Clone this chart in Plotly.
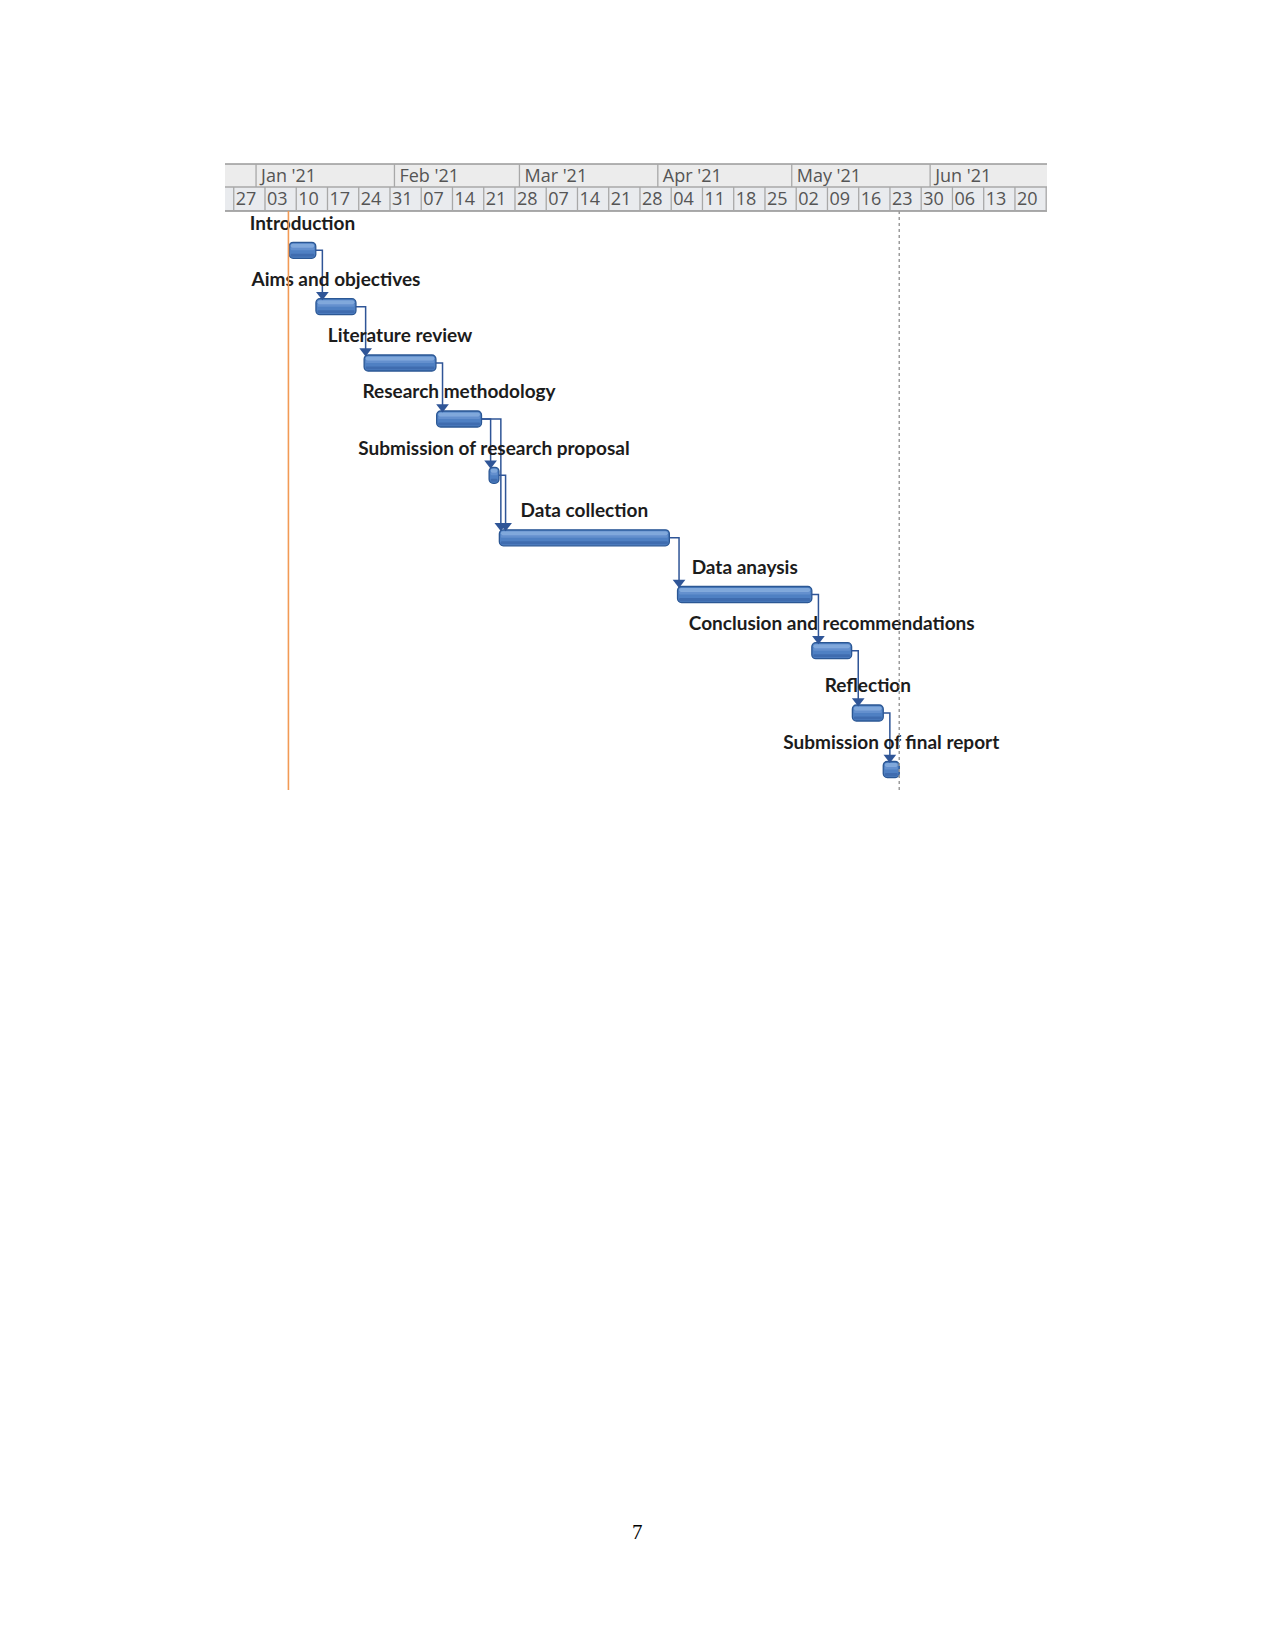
import pandas as pd
import plotly.graph_objects as go

# ---------------- data ----------------
tasks = ["Introduction", "Aims and objectives", "Literature review", "Research methodology",
         "Submission of research proposal", "Data collection", "Data anaysis",
         "Conclusion and recommendations", "Reflection", "Submission of final report"]
starts = ["2021-01-08 10:00", "2021-01-14 10:00", "2021-01-25 05:00", "2021-02-10 11:00",
          "2021-02-22 05:00", "2021-02-24 12:00", "2021-04-05 10:00", "2021-05-05 12:00",
          "2021-05-14 14:00", "2021-05-21 12:00"]
ends = ["2021-01-14 09:00", "2021-01-23 09:00", "2021-02-10 07:00", "2021-02-20 12:00",
        "2021-02-24 10:00", "2021-04-03 14:00", "2021-05-05 12:00", "2021-05-14 10:00",
        "2021-05-21 12:00", "2021-05-25 02:00"]
link_from = [0, 1, 2, 3, 3, 4, 5, 6, 7, 8]
link_to = [1, 2, 3, 4, 5, 5, 6, 7, 8, 9]

month_starts = ["2020-12-01", "2021-01-01", "2021-02-01", "2021-03-01",
                "2021-04-01", "2021-05-01", "2021-06-01"]
month_labels = ["Dec '20", "Jan '21", "Feb '21", "Mar '21", "Apr '21", "May '21", "Jun '21"]
week_starts = ["2020-12-20", "2020-12-27", "2021-01-03", "2021-01-10", "2021-01-17", "2021-01-24",
               "2021-01-31", "2021-02-07", "2021-02-14", "2021-02-21", "2021-02-28", "2021-03-07",
               "2021-03-14", "2021-03-21", "2021-03-28", "2021-04-04", "2021-04-11", "2021-04-18",
               "2021-04-25", "2021-05-02", "2021-05-09", "2021-05-16", "2021-05-23", "2021-05-30",
               "2021-06-06", "2021-06-13", "2021-06-20"]
week_labels = ["20", "27", "03", "10", "17", "24", "31", "07", "14", "21", "28", "07", "14", "21",
               "28", "04", "11", "18", "25", "02", "09", "16", "23", "30", "06", "13", "20"]
status_date = "2021-01-08 06:00"
view_start = "2020-12-25 01:00"
view_end = "2021-06-27 04:20"

# ---------------- layout / style ----------------
PAGE_W, PAGE_H = 1275, 1651
BODY_MARGIN = 8                      # default page margin around the figure
W, H = PAGE_W - 2 * BODY_MARGIN, PAGE_H - 2 * BODY_MARGIN
X_LEFT_PX, X_RIGHT_PX = 225, 1047    # page pixels
HDR_TOP, HDR_MID, HDR_BOT = 164, 187, 211
FIRST_ROW = 250.3
ROW_STEPS = [56.4, 56.3, 56.0, 56.3, 62.5, 56.7, 56.2, 62.3, 56.5]
BAR_H = 16
CHART_BOTTOM = 790
LABEL_OFFSET = 25.5
BAR_FILL = "#4f80c3"
BAR_EDGE = "#2b5794"
LINK_COLOR = "#2f5597"
GRID_LINE = "#a8a8a8"
HDR_TEXT = "#555555"

v0, v1 = pd.Timestamp(view_start), pd.Timestamp(view_end)
px_per_day = (X_RIGHT_PX - X_LEFT_PX) / ((v1 - v0) / pd.Timedelta(days=1))


def px(n):
    return pd.Timedelta(days=n / px_per_day)


st = [pd.Timestamp(s) for s in starts]
en = [pd.Timestamp(e) for e in ends]
yc = [FIRST_ROW]
for s in ROW_STEPS:
    yc.append(yc[-1] + s)

fig = go.Figure()
shapes = []

# ---------- header ----------
shapes.append(dict(type="rect", xref="x", yref="y", x0=v0 - px(5), x1=v1 + px(5),
                   y0=HDR_TOP, y1=HDR_MID, fillcolor="#ececec", line=dict(width=0), layer="below"))
shapes.append(dict(type="rect", xref="x", yref="y", x0=v0 - px(5), x1=v1 + px(5),
                   y0=HDR_MID, y1=HDR_BOT, fillcolor="#e9ebee", line=dict(width=0), layer="below"))
for yy, col in [(HDR_TOP, "#9a9a9a"), (HDR_MID, GRID_LINE), (HDR_BOT, "#8f8f8f")]:
    shapes.append(dict(type="line", xref="x", yref="y", x0=v0 - px(5), x1=v1 + px(5),
                       y0=yy, y1=yy, line=dict(color=col, width=1.3)))
for m in month_starts + ["2021-07-01"]:
    shapes.append(dict(type="line", xref="x", yref="y", x0=m, x1=m, y0=HDR_TOP, y1=HDR_MID,
                       line=dict(color=GRID_LINE, width=1.3)))
for w in week_starts + ["2021-06-27"]:
    shapes.append(dict(type="line", xref="x", yref="y", x0=w, x1=w, y0=HDR_MID, y1=HDR_BOT,
                       line=dict(color=GRID_LINE, width=1.3)))

fig.add_trace(go.Scatter(
    x=[pd.Timestamp(m) + px(5) for m in month_starts], y=[(HDR_TOP + HDR_MID) / 2 + 1.5] * len(month_starts),
    text=month_labels, mode="text", textposition="middle right", cliponaxis=True,
    textfont=dict(family="Open Sans", size=18, color=HDR_TEXT), hoverinfo="skip"))
fig.add_trace(go.Scatter(
    x=[pd.Timestamp(w) + px(2) for w in week_starts], y=[(HDR_MID + HDR_BOT) / 2 + 1.5] * len(week_starts),
    text=week_labels, mode="text", textposition="middle right", cliponaxis=True,
    textfont=dict(family="Open Sans", size=18, color=HDR_TEXT), hoverinfo="skip"))

# ---------- status and finish lines ----------
shapes.append(dict(type="line", xref="x", yref="y", x0=status_date, x1=status_date,
                   y0=HDR_BOT, y1=CHART_BOTTOM, line=dict(color="#f29a55", width=1.6)))
finish = max(en)
shapes.append(dict(type="line", xref="x", yref="y", x0=finish, x1=finish,
                   y0=HDR_BOT, y1=CHART_BOTTOM, line=dict(color="#9c9c9c", width=1.5, dash="dot")))

# ---------- links ----------
arrow_x, arrow_y = [], []
for a, b in zip(link_from, link_to):
    xv = max(en[a] + px(6.6), st[b] + px(1.5))
    tip = yc[b] - BAR_H / 2
    fig.add_trace(go.Scatter(x=[en[a], xv, xv], y=[yc[a], yc[a], tip - 5], mode="lines",
                             line=dict(color=LINK_COLOR, width=1.5), hoverinfo="skip"))
    arrow_x.append(xv)
    arrow_y.append(tip - 4)

# ---------- bars ----------
ms = pd.Timedelta(milliseconds=1)
dur = [(e - s) / ms for s, e in zip(st, en)]
fig.add_trace(go.Bar(y=yc, x=dur, base=st, orientation="h", width=BAR_H,
                     marker=dict(color=BAR_FILL, line=dict(color=BAR_EDGE, width=1.3), cornerradius=4),
                     hoverinfo="skip"))
# soft highlight (upper) and shade (lower) bands to mimic the gradient
inner_base = [s + px(1.5) for s in st]
inner = [d - 2 * px(1.5) / ms for d in dur]
fig.add_trace(go.Bar(y=[y - 4.5 for y in yc], x=inner, base=inner_base, orientation="h",
                     width=4, marker=dict(color="rgba(170,200,238,0.55)", line=dict(width=0), cornerradius=2),
                     hoverinfo="skip"))
fig.add_trace(go.Bar(y=[y - 1.5 for y in yc], x=inner, base=inner_base, orientation="h",
                     width=3, marker=dict(color="rgba(140,175,225,0.35)", line=dict(width=0), cornerradius=1),
                     hoverinfo="skip"))
fig.add_trace(go.Bar(y=[y + 5 for y in yc], x=inner, base=inner_base, orientation="h",
                     width=3, marker=dict(color="rgba(45,85,150,0.45)", line=dict(width=0), cornerradius=1),
                     hoverinfo="skip"))

fig.add_trace(go.Scatter(x=arrow_x, y=arrow_y, mode="markers",
                         marker=dict(symbol="triangle-down", size=11, color=LINK_COLOR,
                                     line=dict(width=0)), hoverinfo="skip"))

# ---------- task labels ----------
mids = [s + (e - s) / 2 for s, e in zip(st, en)]
fig.add_trace(go.Scatter(x=mids, y=[y - LABEL_OFFSET for y in yc], text=tasks, mode="text",
                         textposition="middle center", cliponaxis=False,
                         textfont=dict(family="Lato", size=19, color="#1c1c1c", weight="bold"),
                         hoverinfo="skip"))

fig.update_layout(
    width=W, height=H, autosize=False, margin=dict(l=0, r=0, t=0, b=0),
    paper_bgcolor="white", plot_bgcolor="white", showlegend=False, barmode="overlay",
    shapes=shapes,
    xaxis=dict(type="date", range=[v0, v1],
               domain=[(X_LEFT_PX - BODY_MARGIN) / W, (X_RIGHT_PX - BODY_MARGIN) / W],
               visible=False, showgrid=False, zeroline=False),
    yaxis=dict(range=[BODY_MARGIN + H, BODY_MARGIN], domain=[0, 1],
               visible=False, showgrid=False, zeroline=False),
    annotations=[dict(text="7", xref="paper", yref="y", x=(637 - BODY_MARGIN) / W, y=1532,
                      showarrow=False,
                      font=dict(family="Liberation Serif", size=21, color="black"))],
)

fig.write_html("out.html")
